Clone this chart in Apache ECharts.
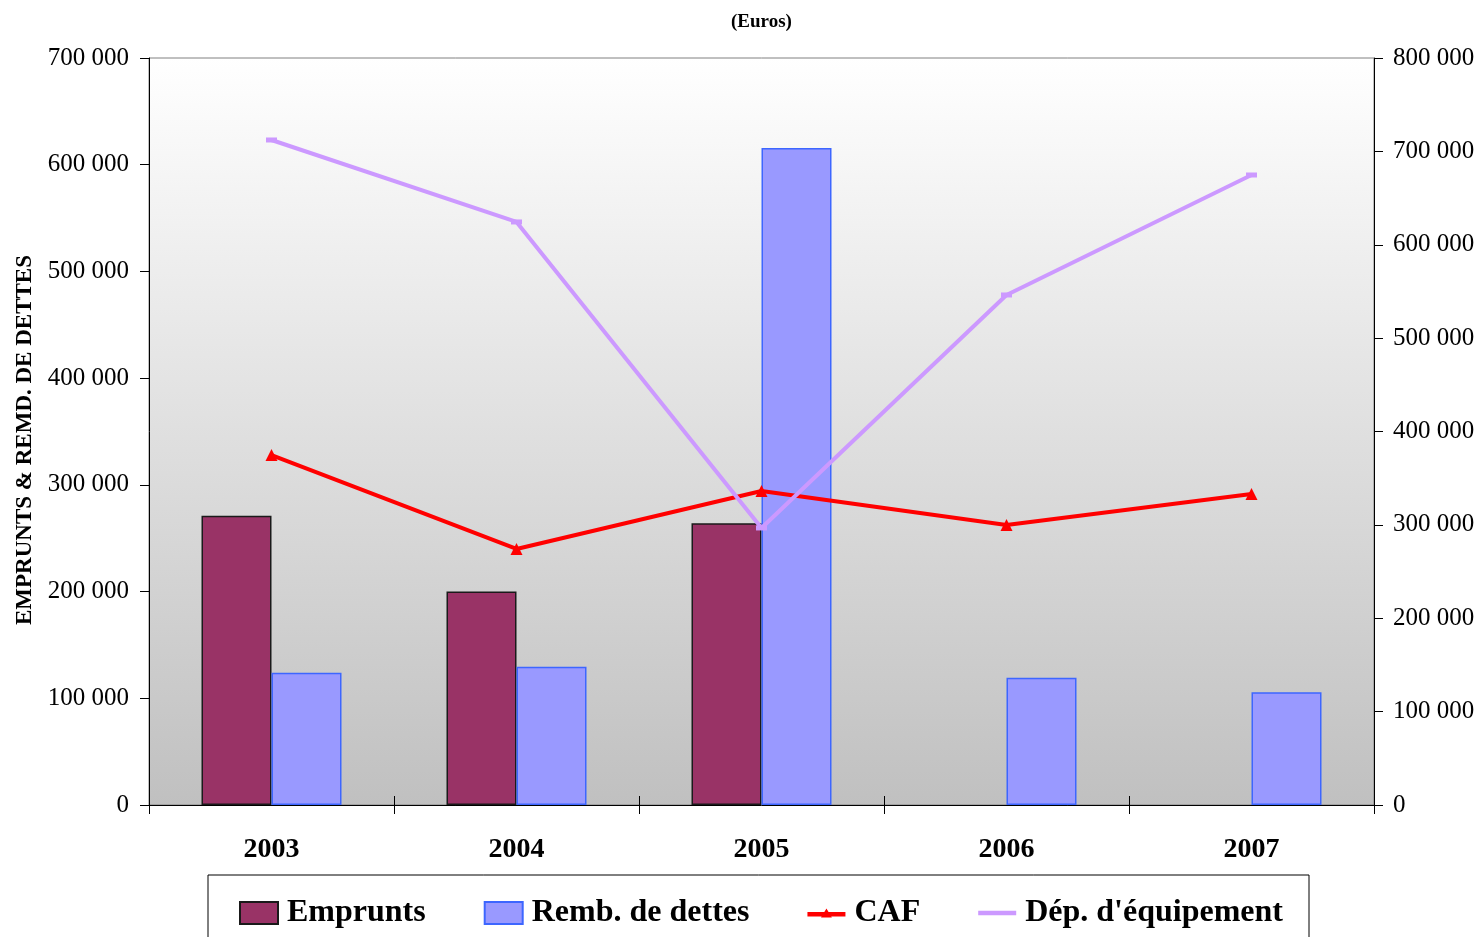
<!DOCTYPE html>
<html>
<head>
<meta charset="utf-8">
<title>Emprunts, remboursements, CAF et dépenses d'équipement</title>
<script src="https://cdn.jsdelivr.net/npm/echarts@6/dist/echarts.min.js"></script>
<style>
  html, body { margin: 0; padding: 0; background: #ffffff; }
  #chart { width: 1482px; height: 937px; }
</style>
</head>
<body>
<div id="chart"></div>
<script>
// Years on the category axis
const years = ['2003', '2004', '2005', '2006', '2007'];

// Left axis (euros): borrowing and debt repayment
const emprunts = [271000, 200000, 264000, 0, 0];
const rembDettes = [124000, 129500, 615700, 119300, 105600];

// Right axis (euros): self-financing capacity and equipment spending
const caf = [374800, 274200, 336300, 299900, 333100];
const depEquipement = [712200, 624400, 296700, 546200, 674700];

// Tick values for each value axis
const leftTicks = [0, 100000, 200000, 300000, 400000, 500000, 600000, 700000];
const rightTicks = [0, 100000, 200000, 300000, 400000, 500000, 600000, 700000, 800000];

const serif = '"Liberation Serif", "Times New Roman", "DejaVu Serif", serif';

function fmt(v) {
  return String(Math.round(v)).replace(/\B(?=(\d{3})+(?!\d))/g, ' ');
}

// a zero-height bar is left empty rather than drawn as a flat outline
const nonZero = arr => arr.map(v => (v === 0 ? null : v));

const chart = echarts.init(document.getElementById('chart'), null, { renderer: 'canvas' });

chart.setOption({
  animation: false,
  backgroundColor: '#ffffff',
  textStyle: { fontFamily: serif, color: '#000' },
  title: {
    text: '(Euros)',
    left: 726,
    top: 8,
    textStyle: { fontFamily: serif, fontSize: 19, fontWeight: 'bold', color: '#000' }
  },
  grid: {
    left: 149, right: 108, top: 58, bottom: 132,
    outerBoundsMode: 'none',
    containLabel: false,
    show: true,
    borderColor: '#808080',
    borderWidth: 1,
    backgroundColor: {
      type: 'linear', x: 0, y: 0, x2: 0, y2: 1,
      colorStops: [
        { offset: 0, color: '#ffffff' },
        { offset: 1, color: '#c0c0c0' }
      ]
    }
  },
  legend: {
    left: 208,
    top: 875,
    padding: [22, 26, 40, 31],
    itemGap: 58,
    itemWidth: 38,
    itemHeight: 22,
    borderColor: '#000',
    borderWidth: 1,
    backgroundColor: '#ffffff',
    textStyle: { fontFamily: serif, fontSize: 32, fontWeight: 'bold', color: '#000', padding: [0, 0, 0, 4] },
    data: [
      { name: 'Emprunts', icon: 'rect' },
      { name: 'Remb. de dettes', icon: 'rect' },
      { name: 'CAF', icon: 'path://M0,5h42v5h-42z M21,1L27,11L15,11Z' },
      { name: "Dép. d'équipement", icon: 'path://M0,0h42v5h-42z' }
    ]
  },
  xAxis: [{
    type: 'category',
    data: years,
    boundaryGap: true,
    axisLine: { lineStyle: { color: '#000', width: 1 } },
    axisTick: { show: true, interval: 0, length: 9, lineStyle: { color: '#000' } },
    axisLabel: { interval: 0, margin: 31, fontFamily: serif, fontSize: 28, fontWeight: 'bold', color: '#000' },
    splitLine: { show: false }
  }, {
    // inner half of the crossing tick marks
    type: 'category',
    data: years,
    position: 'bottom',
    boundaryGap: true,
    axisLine: { show: false },
    axisTick: { show: true, inside: true, interval: 0, length: 9, lineStyle: { color: '#000' } },
    axisLabel: { show: false },
    splitLine: { show: false }
  }],
  yAxis: [{
    type: 'value',
    min: leftTicks[0],
    max: leftTicks[leftTicks.length - 1],
    interval: leftTicks[1] - leftTicks[0],
    name: 'EMPRUNTS & REMD. DE DETTES',
    nameLocation: 'middle',
    nameGap: 112,
    nameRotate: 90,
    nameTextStyle: { fontFamily: serif, fontSize: 23, fontWeight: 'bold', color: '#000', padding: [0, 0, 0, -17] },
    axisLine: { show: true, lineStyle: { color: '#000', width: 1 } },
    axisTick: { show: true, length: 9, lineStyle: { color: '#000' } },
    axisLabel: { margin: 20, fontFamily: serif, fontSize: 25, color: '#000', formatter: fmt },
    splitLine: { show: false }
  }, {
    type: 'value',
    position: 'right',
    min: rightTicks[0],
    max: rightTicks[rightTicks.length - 1],
    interval: rightTicks[1] - rightTicks[0],
    axisLine: { show: true, lineStyle: { color: '#000', width: 1 } },
    axisTick: { show: true, length: 9, lineStyle: { color: '#000' } },
    axisLabel: { margin: 19, fontFamily: serif, fontSize: 25, color: '#000', formatter: fmt },
    splitLine: { show: false }
  }],
  series: [{
    name: 'Emprunts',
    type: 'bar',
    xAxisIndex: 0,
    yAxisIndex: 0,
    data: nonZero(emprunts),
    barWidth: 70,
    barGap: '0%',
    itemStyle: { color: '#993366', borderColor: '#1a1a1a', borderWidth: 1.5 }
  }, {
    name: 'Remb. de dettes',
    type: 'bar',
    xAxisIndex: 0,
    yAxisIndex: 0,
    data: nonZero(rembDettes),
    barWidth: 70,
    barGap: '0%',
    itemStyle: { color: '#9999ff', borderColor: '#3d66ff', borderWidth: 1.5 }
  }, {
    name: 'CAF',
    type: 'line',
    xAxisIndex: 0,
    yAxisIndex: 1,
    data: caf,
    symbol: 'triangle',
    symbolSize: 12,
    lineStyle: { color: '#ff0000', width: 4 },
    itemStyle: { color: '#ff0000' }
  }, {
    name: "Dép. d'équipement",
    type: 'line',
    xAxisIndex: 0,
    yAxisIndex: 1,
    data: depEquipement,
    symbol: 'rect',
    symbolSize: [11, 5],
    lineStyle: { color: '#cc99ff', width: 4 },
    itemStyle: { color: '#cc99ff' }
  }]
});
</script>
</body>
</html>
